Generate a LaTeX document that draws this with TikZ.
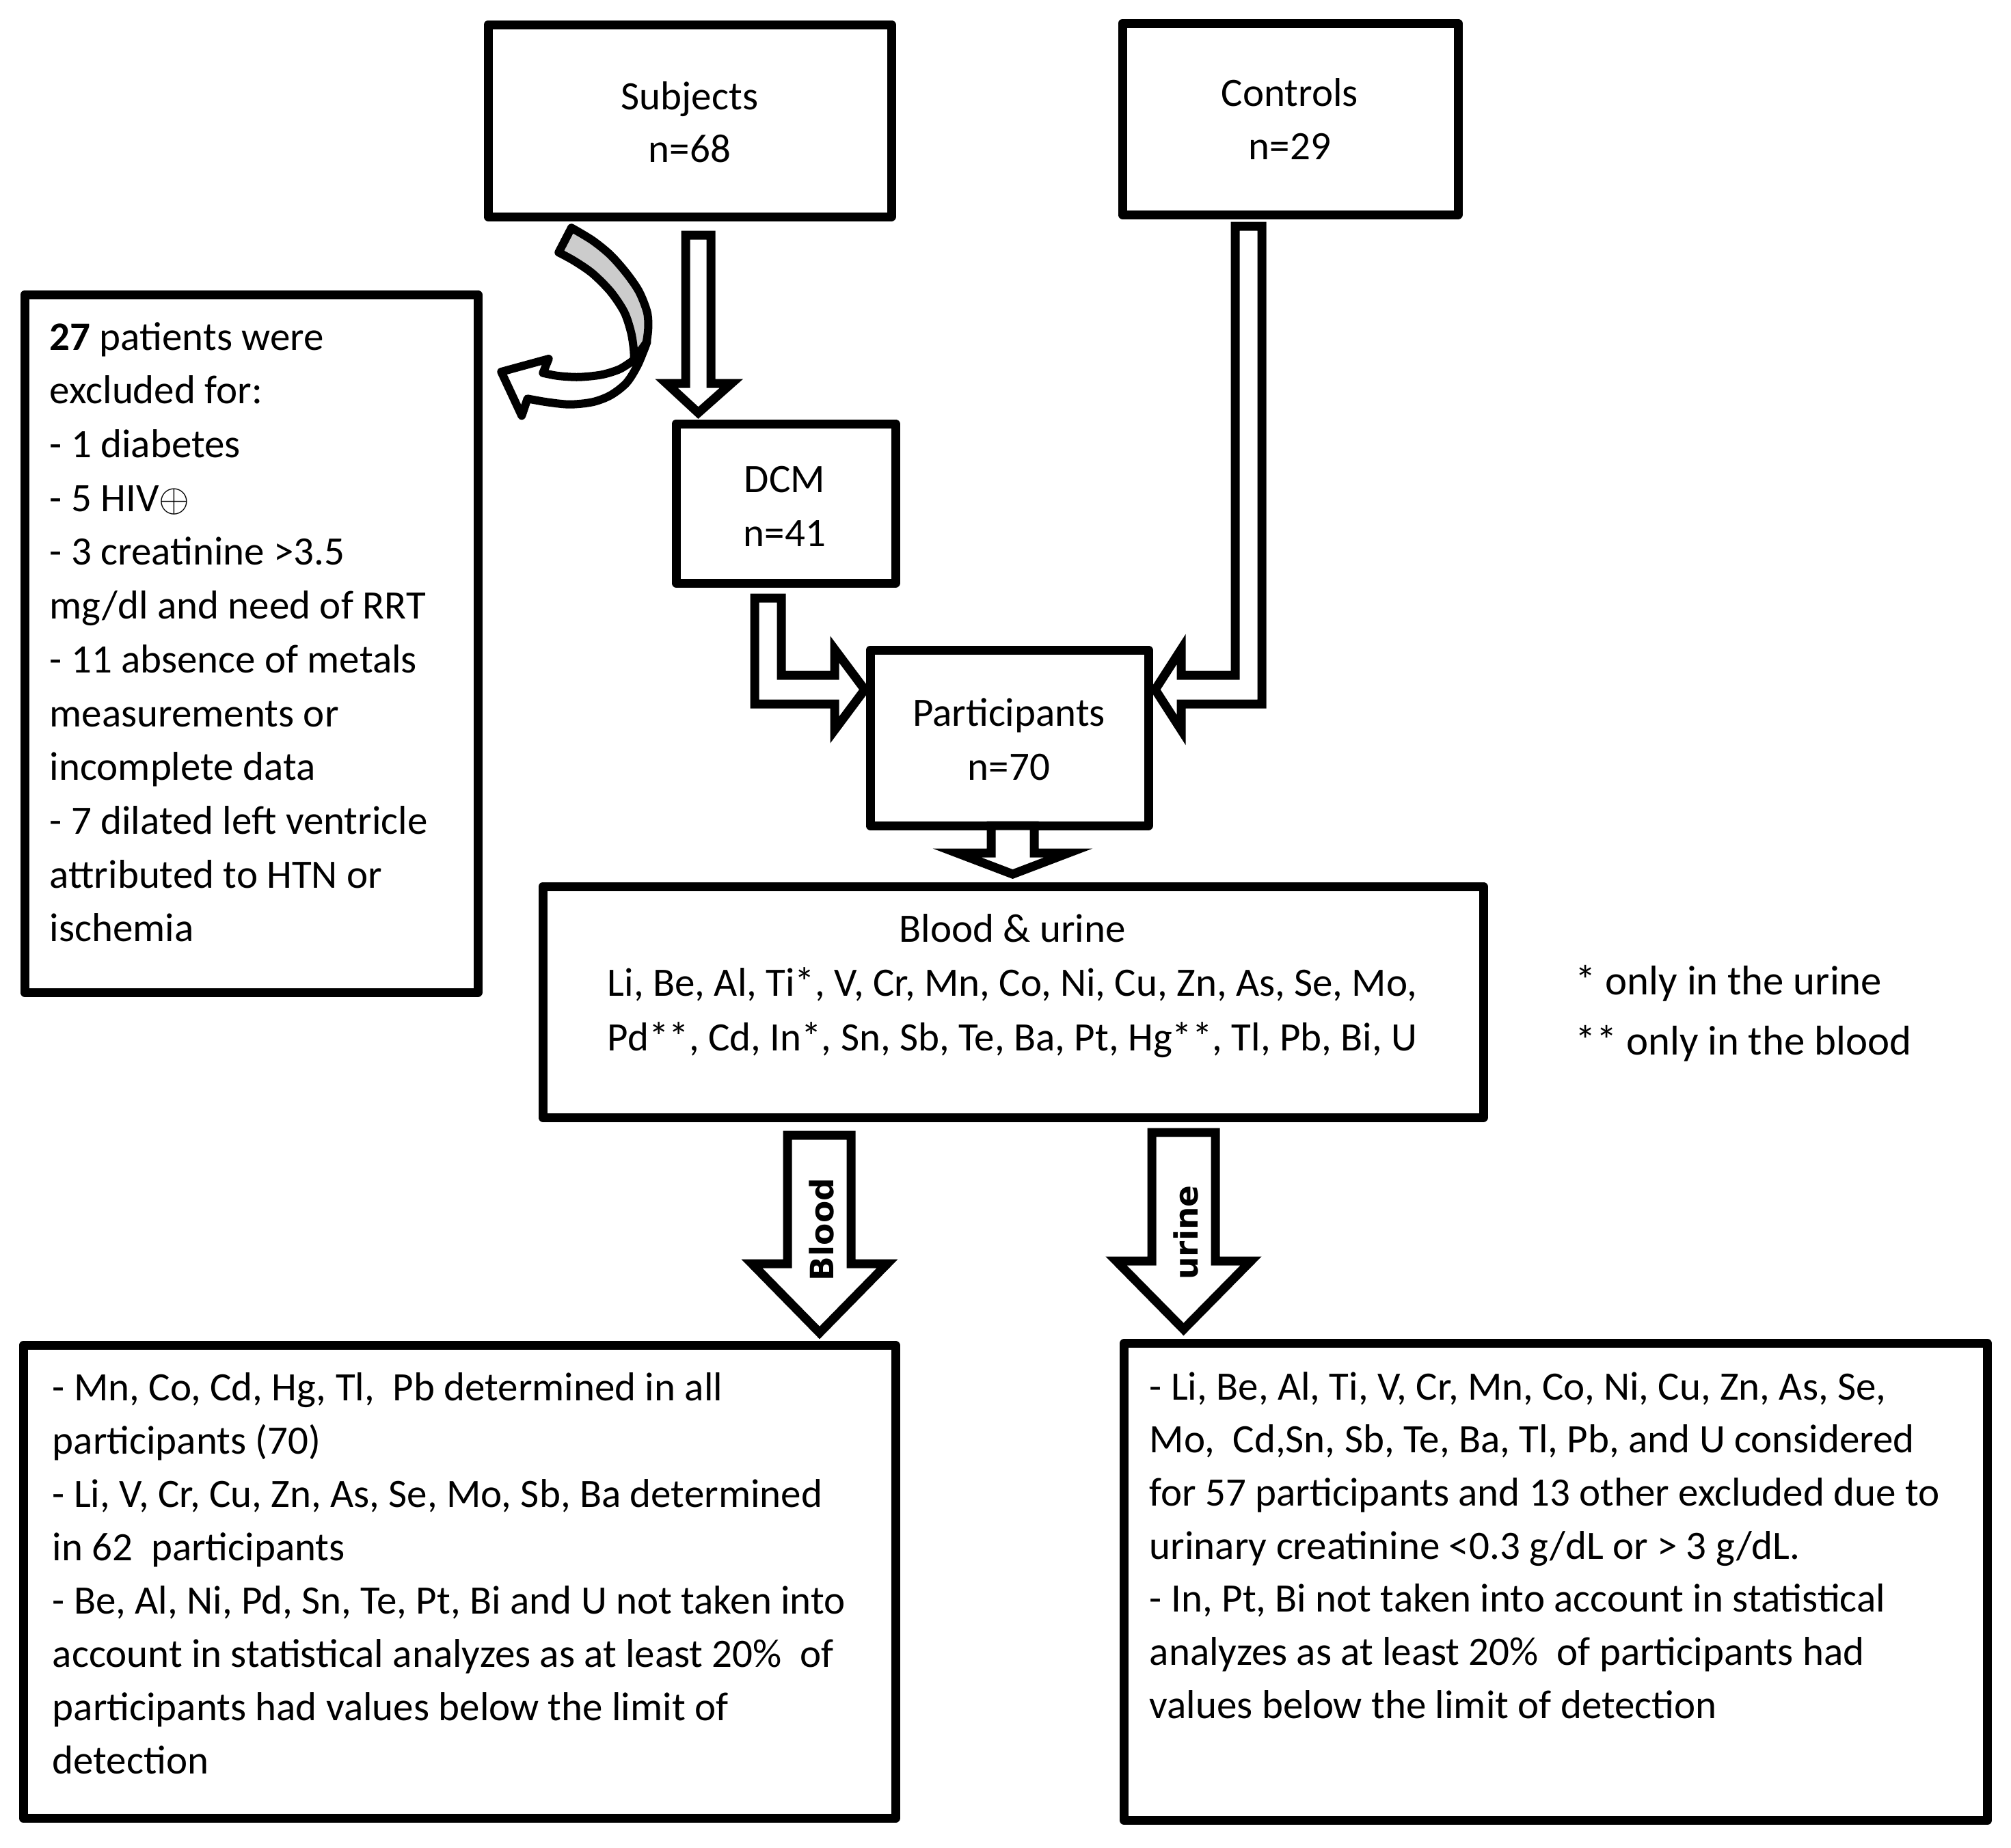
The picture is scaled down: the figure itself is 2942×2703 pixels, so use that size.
\documentclass[tikz,border=0pt]{standalone}
\usepackage{fontspec}
\setmainfont{Carlito}
\newfontfamily\lblfont{DejaVu Sans}
\definecolor{ribbongray}{HTML}{CCCCCC}
\newcommand{\linesL}[2]{\vtop{\baselineskip=#1\relax\halign{##\hfil\cr#2\crcr}}}
\newcommand{\linesC}[2]{\vtop{\baselineskip=#1\relax\halign{\hfil##\hfil\cr#2\crcr}}}
\tikzset{
  box/.style={draw, line width=3.25pt, line join=round, inner sep=0pt},
  txt/.style={inner sep=0pt, font=\fontsize{14.75pt}{19.75pt}\selectfont},
  blockarrow/.style={draw, fill=white, line width=3.25pt, line join=miter},
  curvy/.style={draw, line width=3pt, line join=round},
  arrowlabel/.style={inner sep=0pt, rotate=90, anchor=base, font=\lblfont\bfseries\fontsize{11.75pt}{14pt}\selectfont}
}
\begin{document}
\begin{tikzpicture}[x=0.25pt,y=-0.25pt]
\useasboundingbox (0,0) rectangle (2942,2703);
\fill[white] (0,0) rectangle (2942,2703);

% boxes
\node[box, minimum width=147.5pt, minimum height=70.25pt] (subj) at (1009,176.5) {};
\node[box, minimum width=122.75pt, minimum height=70pt] (ctrl) at (1887.5,174) {};
\node[box, minimum width=165.75pt, minimum height=255.25pt] (excl) at (367.5,941.5) {};
\node[box, minimum width=80.25pt, minimum height=58.25pt] (dcm) at (1149.5,736.5) {};
\node[box, minimum width=101.75pt, minimum height=64.25pt] (part) at (1476.5,1079.5) {};
\node[box, minimum width=344pt, minimum height=84.5pt] (bu) at (1482,1466) {};
\node[box, minimum width=319pt, minimum height=173pt] (bres) at (672,2314.5) {};
\node[box, minimum width=315.75pt, minimum height=174.5pt] (ures) at (2276,2314.5) {};

% block arrows
\draw[blockarrow] (1003,344) -- (1040,344) -- (1040,561) -- (1070,561) -- (1021.5,604) -- (975,561) -- (1003,561) -- cycle;
\draw[blockarrow] (1104,875) -- (1143,875) -- (1143,988) -- (1221,988) -- (1221,950) -- (1265,1009) -- (1221,1068) -- (1221,1030) -- (1104,1030) -- cycle;
\draw[blockarrow] (1807,331) -- (1846,331) -- (1846,1030) -- (1728,1030) -- (1728,1068) -- (1690,1009) -- (1728,950) -- (1728,988) -- (1807,988) -- cycle;
\draw[blockarrow] (1450,1208) -- (1513,1208) -- (1513,1248) -- (1563,1248) -- (1481.5,1279) -- (1400,1248) -- (1450,1248) -- cycle;
\draw[blockarrow] (1152,1661) -- (1245,1661) -- (1245,1849) -- (1298,1849) -- (1199,1950) -- (1100,1849) -- (1152,1849) -- cycle;
\draw[blockarrow] (1685,1657) -- (1778,1657) -- (1778,1845) -- (1830,1845) -- (1731.5,1945) -- (1633,1845) -- (1685,1845) -- cycle;

% curved arrow: back (grey) ribbon
\draw[curvy, fill=ribbongray] (836,333.3)
  -- plot[smooth] coordinates {(836,333.3) (866.7,351.7) (893.3,373.3) (916.7,400) (935,426.7) (946.7,456.7) (948.3,480) (945,503.3) (936.7,523.3)}
  -- (927.3,528.3)
  -- plot[smooth] coordinates {(927.3,528.3) (927.3,513.3) (923.3,486.7) (913.3,456.7) (893.3,426.7) (866.7,400) (840,381.7) (817.3,369.3)}
  -- cycle;
% curved arrow: front (white) ribbon with head
\draw[curvy, fill=white] (946.7,500)
  -- plot[smooth] coordinates {(927.3,526.7) (906.7,540) (880,548.3) (846.7,551.7) (816.7,550) (794.3,545.7)}
  -- (802.7,525) -- (733.3,544) -- (763.3,608.3) -- (771.7,583.3)
  -- plot[smooth] coordinates {(771.7,583.3) (800,588.3) (833.3,591.7) (866.7,588.3) (893.3,578.3) (916.7,560) (933.3,533.3) (946.7,500)}
  -- cycle;

% texts
\node[txt, anchor=base] (subjT) at (1009,160) {\linesC{19.25pt}{Subjects\cr n=68}};
\node[txt, anchor=base] (ctrlT) at (1887,155) {\linesC{19.5pt}{Controls\cr n=29}};
\node[txt, anchor=base] (dcmT) at (1148,720) {\linesC{19.75pt}{DCM\cr n=41}};
\node[txt, anchor=base] (partT) at (1476,1062) {\linesC{19.875pt}{Participants\cr n=70}};
\node[txt, anchor=base] (buT) at (1481,1378) {\linesC{19.875pt}{Blood \& urine\cr
Li, Be, Al, Ti*, V, Cr, Mn, Co, Ni, Cu, Zn, As, Se, Mo,\cr
Pd**, Cd, In*, Sn, Sb, Te, Ba, Pt, Hg**, Tl, Pb, Bi, U}};
\node[inner sep=0pt, anchor=base west, font=\fontsize{15.2pt}{22pt}\selectfont] (noteT) at (2304,1455) {\linesL{22pt}{* only in the urine\cr
** only in the blood}};
\node[txt, anchor=base west] (exclT) at (72,512) {\linesL{19.68pt}{\textbf{27} patients were\cr
excluded for:\cr
- 1 diabetes\cr
- 5 HIV$\oplus$\cr
- 3 creatinine >3.5\cr
mg/dl and need of RRT\cr
- 11 absence of metals\cr
measurements or\cr
incomplete data\cr
- 7 dilated left ventricle\cr
attributed to HTN or\cr
ischemia}};
\node[txt, anchor=base west] (bresT) at (76,2049.5) {\linesL{19.5pt}{- Mn, Co, Cd, Hg, Tl,\ \ Pb determined in all\cr
participants (70)\cr
- Li, V, Cr, Cu, Zn, As, Se, Mo, Sb, Ba determined\cr
in 62\ \ participants\cr
- Be, Al, Ni, Pd, Sn, Te, Pt, Bi and U not taken into\cr
account in statistical analyzes as at least 20\%\ \ of\cr
participants had values below the limit of\cr
detection}};
\node[txt, anchor=base west] (uresT) at (1681,2048) {\linesL{19.43pt}{- Li, Be, Al, Ti, V, Cr, Mn, Co, Ni, Cu, Zn, As, Se,\cr
Mo,\ \ Cd,Sn, Sb, Te, Ba, Tl, Pb, and U considered\cr
for 57 participants and 13 other excluded due to\cr
urinary creatinine <0.3 g/dL or > 3 g/dL.\cr
- In, Pt, Bi not taken into account in statistical\cr
analyzes as at least 20\%\ \ of participants had\cr
values below the limit of detection}};

% arrow labels
\node[arrowlabel] (bloodL) at (1219,1799) {Blood};
\node[arrowlabel] (urineL) at (1752,1803.5) {urine};
\end{tikzpicture}
\end{document}
